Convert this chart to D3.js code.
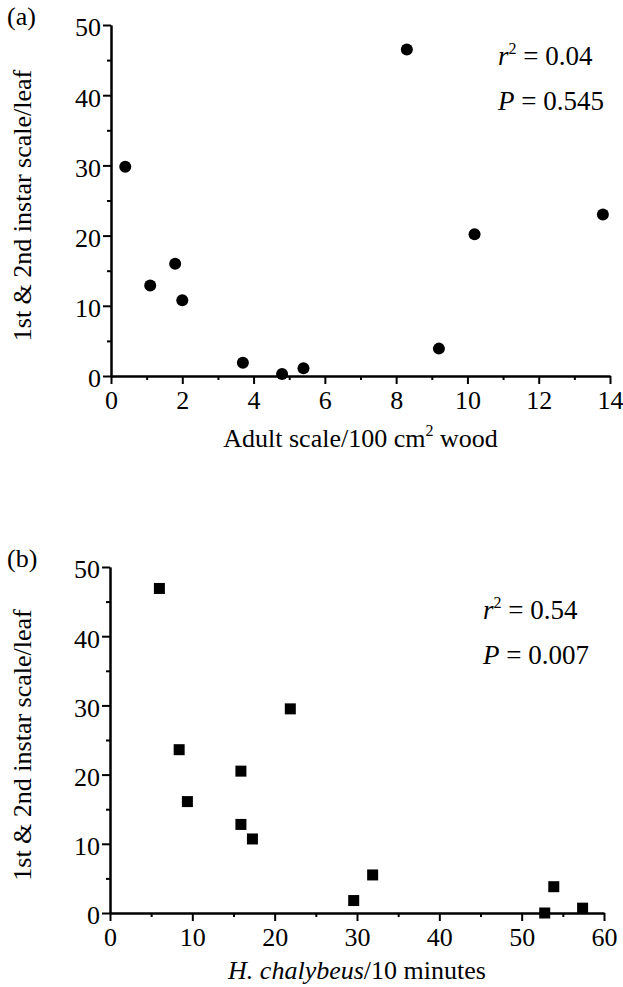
<!DOCTYPE html>
<html>
<head>
<meta charset="utf-8">
<script src="https://cdn.jsdelivr.net/npm/d3@7"></script>
<style>
  body { margin: 0; background: #fff; }
  svg text { font-family: "Liberation Serif", "Times New Roman", serif; fill: #000; }
  .axis path, .axis line { stroke: #000; stroke-width: 2; }
</style>
</head>
<body>
<svg id="chart" width="623" height="987"></svg>
<script>
// panel (a) data: adult scale vs crawlers
const adultScale = [0.4, 1.1, 1.8, 2.0, 3.7, 4.8, 5.4, 8.3, 9.2, 10.2, 13.8];
const crawlersA  = [29.8, 12.9, 16.0, 10.8, 1.9, 0.3, 1.1, 46.5, 3.9, 20.2, 23.0];
// panel (b) data: ant visits vs crawlers
const antVisits  = [6.0, 8.4, 9.4, 15.9, 15.9, 17.3, 21.9, 29.6, 31.9, 52.8, 53.9, 57.4];
const crawlersB  = [46.9, 23.6, 16.1, 20.5, 12.8, 10.7, 29.5, 1.8, 5.5, 0.0, 3.8, 0.7];

const yTicks = [0, 10, 20, 30, 40, 50];
const yMinor = [5, 15, 25, 35, 45];
const aTicks = [0, 2, 4, 6, 8, 10, 12, 14];
const aMinor = [1, 3, 5, 7, 9, 11, 13];
const bTicks = [0, 10, 20, 30, 40, 50, 60];
const bMinor = [5, 15, 25, 35, 45, 55];

const fontSize = 26;
const svg = d3.select("#chart");

/**
 * Draws one scatter panel and returns the group.
 */
function panel(opts) {
    const g = svg.append("g");
    const x = d3.scaleLinear().domain(opts.xDomain).range([opts.left, opts.right]);
    const y = d3.scaleLinear().domain([0, 50]).range([opts.bottom, opts.top]);

    // minor ticks first, then major axes on top
    g.append("g").attr("class", "axis")
        .attr("transform", `translate(0,${opts.bottom})`)
        .call(d3.axisBottom(x).tickValues(opts.xMinor).tickSize(4).tickSizeOuter(0).tickFormat(""));
    g.append("g").attr("class", "axis")
        .attr("transform", `translate(${opts.left},0)`)
        .call(d3.axisLeft(y).tickValues(yMinor).tickSize(4).tickSizeOuter(0).tickFormat(""));

    const xa = g.append("g").attr("class", "axis")
        .attr("transform", `translate(0,${opts.bottom})`)
        .call(d3.axisBottom(x).tickValues(opts.xTicks).tickSize(8).tickSizeOuter(0).tickPadding(6));
    xa.selectAll("text").attr("font-size", fontSize).attr("dy", "0.72em");

    const ya = g.append("g").attr("class", "axis")
        .attr("transform", `translate(${opts.left},0)`)
        .call(d3.axisLeft(y).tickValues(yTicks).tickSize(8).tickSizeOuter(0).tickPadding(2));
    ya.selectAll("text").attr("font-size", fontSize).attr("dy", "0.42em");
    g.selectAll(".axis text").attr("font-family", "Liberation Serif");

    // markers
    const pts = opts.xs.map((v, i) => [v, opts.ys[i]]);
    if (opts.shape === "circle") {
        g.selectAll("circle.pt").data(pts).join("circle")
            .attr("class", "pt")
            .attr("cx", d => x(d[0]))
            .attr("cy", d => y(d[1]))
            .attr("r", 6)
            .attr("fill", "#000");
    } else {
        const s = 11;
        g.selectAll("rect.pt").data(pts).join("rect")
            .attr("class", "pt")
            .attr("x", d => x(d[0]) - s / 2)
            .attr("y", d => y(d[1]) - s / 2)
            .attr("width", s)
            .attr("height", s)
            .attr("fill", "#000");
    }

    // panel letter
    g.append("text")
        .attr("x", 7).attr("y", opts.top)
        .attr("font-size", fontSize)
        .text(opts.letter);

    // y title
    g.append("text")
        .attr("transform", `translate(31,${(opts.top + opts.bottom) / 2 + 5}) rotate(-90)`)
        .attr("text-anchor", "middle")
        .attr("font-size", fontSize)
        .text("1st & 2nd instar scale/leaf");

    // x title
    const xt = g.append("text")
        .attr("x", (opts.left + opts.right) / 2)
        .attr("y", opts.bottom + opts.titleOffset)
        .attr("text-anchor", "middle")
        .attr("font-size", fontSize);
    opts.xTitle(xt);

    // stats
    const st = g.append("g").attr("transform", `translate(${opts.statX},${opts.statY})`);
    const r2 = st.append("text").attr("font-size", fontSize + 1);
    r2.append("tspan").attr("font-style", "italic").text("r");
    r2.append("tspan").attr("font-size", 16).attr("dy", -11).text("2");
    r2.append("tspan").attr("dy", 11).text(` = ${opts.r2}`);
    const p = st.append("text").attr("y", 45).attr("font-size", fontSize + 1);
    p.append("tspan").attr("font-style", "italic").text("P");
    p.append("tspan").text(` = ${opts.p}`);
    return g;
}

panel({
    letter: "(a)", left: 111, right: 610, top: 25, bottom: 376,
    xDomain: [0, 14], xTicks: aTicks, xMinor: aMinor,
    xs: adultScale, ys: crawlersA, shape: "circle",
    titleOffset: 71,
    xTitle: t => {
        t.append("tspan").text("Adult scale/100 cm");
        t.append("tspan").attr("font-size", 16).attr("dy", -11).text("2");
        t.append("tspan").attr("dy", 11).text(" wood");
    },
    statX: 498, statY: 65, r2: "0.04", p: "0.545"
});

panel({
    letter: "(b)", left: 110, right: 604, top: 567, bottom: 913,
    xDomain: [0, 60], xTicks: bTicks, xMinor: bMinor,
    xs: antVisits, ys: crawlersB, shape: "square",
    titleOffset: 66,
    xTitle: t => {
        t.append("tspan").attr("font-style", "italic").text("H. chalybeus");
        t.append("tspan").text("/10 minutes");
    },
    statX: 483, statY: 619, r2: "0.54", p: "0.007"
});
</script>
</body>
</html>
